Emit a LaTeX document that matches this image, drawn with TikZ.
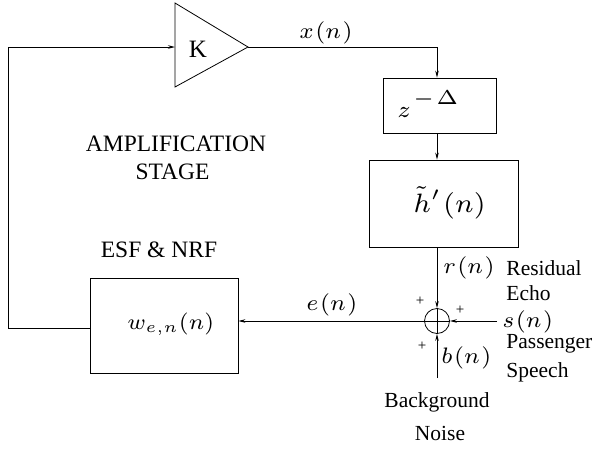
\documentclass[tikz,border=0pt]{standalone}
\usepackage[no-math]{fontspec}
\usepackage{graphicx}
\setmainfont{Liberation Serif}
\usetikzlibrary{arrows.meta}
\newcommand{\fn}[1]{\scalebox{3.2}{$\scriptstyle #1\mkern1mu(n\mkern1mu)$}}
\begin{document}
\begin{tikzpicture}[x=1pt,y=-1pt,
  line width=0.8pt,
  arr/.style={-{Stealth[length=7pt,width=3.5pt]}},
  lbl/.style={inner sep=0pt,anchor=base west},
  txt/.style={font=\fontsize{21.5}{24}\selectfont,inner sep=0pt,anchor=base},
  big/.style={font=\fontsize{23.5}{26}\selectfont,inner sep=0pt,anchor=base},
  pl/.style={font=\fontsize{15}{15}\selectfont,inner sep=0pt}]
\useasboundingbox (0,0) rectangle (593,451);
% amplifier
\draw (175,3) -- (248,47) coordinate (tap) -- (175,87) -- cycle;
\node[big,font=\fontsize{25}{27}\selectfont] (K) at (198,57) {K};
\coordinate (tin) at (175,47);
% boxes
\node[draw,minimum width=113pt,minimum height=55pt,inner sep=0pt] (z) at (439.5,105.5) {};
\node[lbl] (zt) at (397,117) {\scalebox{3.3}{$\scriptstyle z$}\hspace{2pt}\raisebox{13pt}{\scalebox{4}{$\scriptscriptstyle -\mkern1mu\Delta$}}};
\node[draw,minimum width=149pt,minimum height=87pt,inner sep=0pt] (h) at (443.5,203.5) {};
\node[lbl] (ht) at (413,212) {\scalebox{3.8}{$\scriptstyle \tilde h'\mkern1mu(n)$}};
\node[draw,minimum width=148pt,minimum height=95pt,inner sep=0pt] (w) at (164,325.5) {};
\node[lbl] (wt) at (127,329) {\scalebox{3.15}{$\scriptstyle w_{e,n}(n)$}};
% sum
\node[draw,circle,minimum size=25pt,inner sep=0pt] (s) at (437,321) {};
\draw (s.north) -- (s.south) (s.west) -- (s.east);
% connectors
\coordinate (xc) at (437,47);
\draw[arr] (tap) -- (xc) -- (z.north -| xc);
\draw[arr] (z.south -| xc) -- (h.north -| xc);
\draw[arr] (h.south -| xc) -- (s.north);
\coordinate (sin) at (497,321);
\draw[arr] (sin) -- (s.east);
\coordinate (bin) at (437,378);
\draw[arr] (bin) -- (s.south);
\draw[arr] (s.west) -- (w.east |- s.west);
\coordinate (c1) at (8,328);
\coordinate (c2) at (8,47);
\draw[arr] (w.west |- c1) -- (c1) -- (c2) -- (tin);
% labels
\node[lbl] (xl) at (299,38) {\fn{x}};
\node[lbl] (el) at (306,310) {\fn{e}};
\node[lbl] (rl) at (443,273) {\fn{r}};
\node[lbl] (sl) at (502,327) {\fn{s}};
\node[lbl] (bl) at (441,363) {\fn{b}};
\node[txt,anchor=base west] (t1) at (506,275) {Residual};
\node[txt,anchor=base west] (t2) at (506,300) {Echo};
\node[txt,anchor=base west] (t3) at (506,348) {Passenger};
\node[txt,anchor=base west] (t4) at (506,377) {Speech};
\node[txt] (t5) at (437,407) {Background};
\node[txt] (t6) at (440,440) {Noise};
\node[big] (t7) at (176,151) {AMPLIFICATION};
\node[big] (t8) at (172.5,179) {STAGE};
\node[big] (t9) at (159,257) {ESF \& NRF};
\node[pl] (p1) at (420,301) {+};
\node[pl] (p2) at (460,310) {+};
\node[pl] (p3) at (422,346) {+};
\end{tikzpicture}
\end{document}
